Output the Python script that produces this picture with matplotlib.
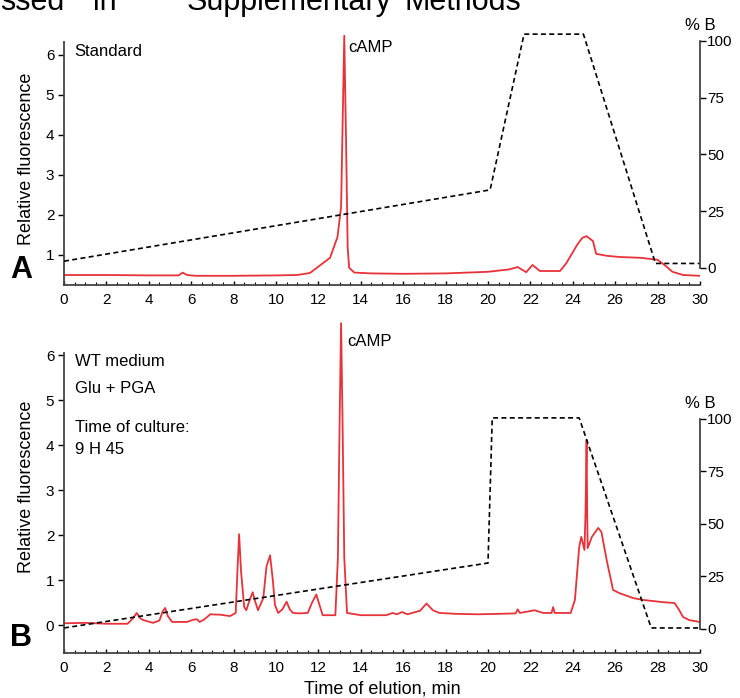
import matplotlib
matplotlib.use("Agg")
import matplotlib.pyplot as plt
from matplotlib.ticker import MultipleLocator

plt.rcParams['font.family'] = ['Liberation Sans', 'DejaVu Sans']

# chromatogram A (standard), time in min, relative fluorescence
time_a = [0, 2, 4, 5.4, 5.6, 5.8, 6.2, 8, 10, 11, 11.6, 12.1, 12.55, 12.9, 13.07,
          13.15, 13.22, 13.3, 13.38, 13.45, 13.7, 14.5, 16, 18, 20, 21.0, 21.4,
          21.8, 22.1, 22.45, 23.4, 23.7, 24.2, 24.45, 24.65, 24.95, 25.1, 25.6,
          26.2, 27.2, 28.0, 28.4, 28.7, 29.2, 30]
fluo_a = [0.50, 0.50, 0.49, 0.49, 0.56, 0.50, 0.48, 0.48, 0.49, 0.50, 0.55, 0.75,
          0.93, 1.45, 2.2, 4.5, 6.48, 4.0, 1.2, 0.68, 0.56, 0.54, 0.53, 0.54, 0.58,
          0.64, 0.70, 0.57, 0.75, 0.60, 0.60, 0.80, 1.25, 1.43, 1.47, 1.35, 1.03,
          0.98, 0.95, 0.93, 0.88, 0.72, 0.58, 0.50, 0.48]

# chromatogram B (WT medium)
time_b = [0, 1, 2, 3.0, 3.25, 3.43, 3.6, 3.75, 4.2, 4.5, 4.65, 4.77, 4.9, 5.1, 5.8,
          6.1, 6.27, 6.4, 6.6, 6.9, 7.4, 7.83, 8.1, 8.18, 8.26, 8.35, 8.5, 8.6,
          8.75, 8.9, 9.0, 9.15, 9.4, 9.55, 9.72, 9.85, 9.95, 10.1, 10.3, 10.5,
          10.65, 10.8, 11.1, 11.5, 11.7, 11.9, 12.05, 12.2, 12.8, 12.92, 13.0,
          13.07, 13.14, 13.22, 13.35, 14, 15.2, 15.5, 15.7, 15.95, 16.2, 16.8,
          17.1, 17.4, 17.7, 18.5, 19.5, 20.5, 21.3, 21.4, 21.5, 22.2, 22.6, 23.0,
          23.07, 23.15, 23.9, 24.1, 24.3, 24.4, 24.55, 24.6, 24.65, 24.68, 24.7,
          24.9, 25.2, 25.35, 25.6, 25.9, 26.2, 26.85, 27.3, 28.25, 28.8, 29.0,
          29.2, 29.5, 30]
fluo_b = [0.04, 0.05, 0.03, 0.03, 0.15, 0.27, 0.15, 0.11, 0.05, 0.10, 0.30, 0.38,
          0.20, 0.07, 0.07, 0.12, 0.13, 0.07, 0.12, 0.24, 0.23, 0.20, 0.27, 1.2,
          2.02, 1.2, 0.40, 0.33, 0.55, 0.73, 0.55, 0.33, 0.6, 1.3, 1.55, 1.0, 0.45,
          0.27, 0.35, 0.52, 0.35, 0.27, 0.26, 0.27, 0.50, 0.68, 0.45, 0.22, 0.22,
          1.5, 4.5, 6.71, 4.5, 1.5, 0.27, 0.22, 0.22, 0.27, 0.24, 0.29, 0.24, 0.32,
          0.48, 0.33, 0.27, 0.25, 0.24, 0.25, 0.26, 0.35, 0.27, 0.33, 0.27, 0.27,
          0.40, 0.27, 0.27, 0.56, 1.73, 1.96, 1.67, 2.5, 4.11, 2.5, 1.71, 1.96,
          2.16, 2.07, 1.44, 0.78, 0.71, 0.60, 0.56, 0.51, 0.49, 0.35, 0.18, 0.11,
          0.07]

# solvent gradient (% B)
grad_t_a = [0, 20.1, 21.7, 24.5, 27.9, 30]
grad_b_a = [3, 34.4, 103, 103, 2, 2]
grad_t_b = [0, 20.0, 20.2, 24.3, 27.7, 30]
grad_b_b = [0.5, 31.4, 100.5, 100.5, 0.5, 0.5]

# cut-off page text at the very top (words and their left edge in px)
header_words = ['ssed', 'in', 'Supplementary', 'Methods']
header_x = [0, 93, 187, 405]

red = '#e8323a'
fig = plt.figure(figsize=(7.4, 6.98), dpi=100)

for w, x in zip(header_words, header_x):
    fig.text(x / 740, 1 - 10 / 698, w, fontsize=22, va='baseline', ha='left')


def panel(rect, t, f, gt, gb, ylim, ybounds, yticks, plim, letter):
    ax = fig.add_axes(rect)
    ax.plot(t, f, color=red, lw=1.3)
    ax.set_xlim(0, 30)
    ax.set_ylim(*ylim)
    ax.spines['top'].set_visible(False)
    ax.spines['right'].set_visible(False)
    ax.spines['left'].set_bounds(*ybounds)
    for s in ('left', 'bottom'):
        ax.spines[s].set_color('#444444')
        ax.spines[s].set_linewidth(1.3)
    ax.set_yticks(yticks)
    ax.xaxis.set_major_locator(MultipleLocator(2))
    ax.xaxis.set_minor_locator(MultipleLocator(0.5))
    ax.tick_params(axis='x', direction='in', length=3, width=1, labelsize=11, pad=6)
    ax.tick_params(axis='x', which='minor', direction='in', length=2, width=0.8)
    ax.tick_params(axis='y', direction='out', length=4, width=1, labelsize=11, pad=3)
    ax.set_ylabel('Relative fluorescence', fontsize=13, labelpad=8)
    ax.text(-0.085, 0.0, letter, transform=ax.transAxes, fontsize=22,
            fontweight='bold', ha='left', va='bottom')

    tw = ax.twinx()
    tw.plot(gt, gb, color='black', lw=1.2, dashes=(3, 2))
    tw.set_ylim(*plim)
    for s in ('top', 'left', 'bottom'):
        tw.spines[s].set_visible(False)
    tw.spines['right'].set_bounds(0, 100)
    tw.spines['right'].set_color('#444444')
    tw.spines['right'].set_linewidth(1.3)
    tw.set_yticks([0, 25, 50, 75, 100])
    tw.tick_params(axis='y', direction='out', length=4, width=1, labelsize=11, pad=1)
    tw.annotate('% B', xy=(1.0, 100), xycoords=tw.get_yaxis_transform(),
                xytext=(0, 6), textcoords='offset points', fontsize=12,
                ha='center', va='bottom')
    return ax


# panel A
ax_a = panel([64 / 740, 1 - 285 / 698, 636 / 740, 252 / 698], time_a, fluo_a,
             grad_t_a, grad_b_a, (0.25, 6.55), (0.25, 6.33), [1, 2, 3, 4, 5, 6],
             (-7.49, 103.5), 'A')
ax_a.text(0.5, 6.1, 'Standard', fontsize=12, va='center')
ax_a.text(13.4, 6.2, 'cAMP', fontsize=12, va='center')

# panel B
ax_b = panel([64 / 740, 1 - 653 / 698, 636 / 740, 333 / 698], time_b, fluo_b,
             grad_t_b, grad_b_b, (-0.62, 6.78), (-0.62, 6.05), [0, 1, 2, 3, 4, 5, 6],
             (-11.43, 147.1), 'B')
ax_b.text(13.35, 6.3, 'cAMP', fontsize=12, va='center')
ax_b.text(0.5, 5.85, 'WT medium', fontsize=12, va='center')
ax_b.text(0.5, 5.25, 'Glu + PGA', fontsize=12, va='center')
ax_b.text(0.5, 4.4, 'Time of culture:', fontsize=12, va='center')
ax_b.text(0.5, 3.9, '9 H 45', fontsize=12, va='center')
ax_b.set_xlabel('Time of elution, min', fontsize=13, labelpad=4)

fig.savefig('out.png', dpi=100)
